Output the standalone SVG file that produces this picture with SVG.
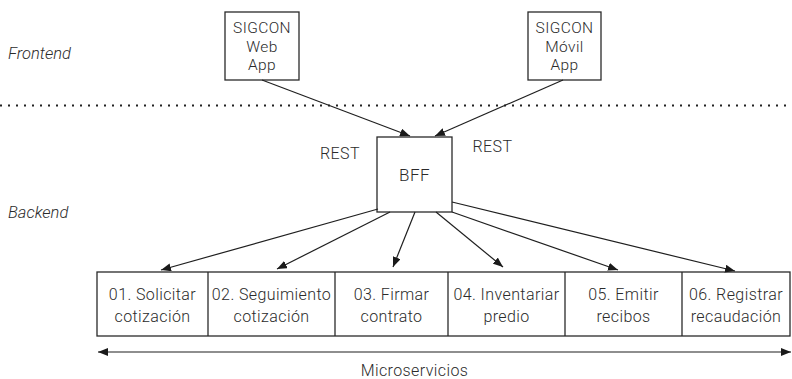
<svg xmlns="http://www.w3.org/2000/svg" width="792" height="379" viewBox="0 0 792 379">
<defs>
<marker id="ah" viewBox="0 0 10 8" refX="10" refY="4" markerWidth="10" markerHeight="8" markerUnits="userSpaceOnUse" orient="auto-start-reverse">
<path d="M0,0 L10,4 L0,8 Z" fill="#1a1a1a"/>
</marker>
<style>
.box{fill:#fff;stroke:#2a2a2a;stroke-width:1.3}
.t{font-family:Roboto,"Liberation Sans",sans-serif;font-size:16px;font-weight:300;letter-spacing:0.4px;fill:#2b2b2b;text-anchor:middle}
.s{font-size:15.5px}
.i{font-family:Roboto,"Liberation Sans",sans-serif;font-size:16.5px;font-weight:300;font-style:italic;fill:#2b2b2b}
.c{stroke:#1f1f1f;stroke-width:1.2;fill:none;marker-end:url(#ah)}
</style>
</defs>
<rect width="792" height="379" fill="#fff"/>
<text class="i" x="8" y="59">Frontend</text>
<text class="i" x="8" y="218">Backend</text>
<line x1="0" y1="105.5" x2="792" y2="105.5" stroke="#222" stroke-width="2" stroke-dasharray="2 6"/>
<g id="web">
<rect class="box" x="225" y="12" width="74" height="68"/>
<text class="t s" x="262" y="33">SIGCON</text>
<text class="t s" x="262" y="52">Web</text>
<text class="t s" x="262" y="70">App</text>
</g>
<g id="movil">
<rect class="box" x="528" y="12" width="73" height="68"/>
<text class="t s" x="564.5" y="33">SIGCON</text>
<text class="t s" x="564.5" y="52">Móvil</text>
<text class="t s" x="564.5" y="70">App</text>
</g>
<g id="bff">
<rect class="box" x="377" y="137" width="75" height="75"/>
<text class="t" x="414.5" y="181" style="font-size:17px">BFF</text>
</g>
<text class="t" x="340" y="159">REST</text>
<text class="t" x="492.5" y="152">REST</text>
<g id="ms">
<rect class="box" x="97" y="272" width="693" height="64"/>
<line x1="208" y1="272" x2="208" y2="336" stroke="#2a2a2a" stroke-width="1.3"/>
<line x1="335" y1="272" x2="335" y2="336" stroke="#2a2a2a" stroke-width="1.3"/>
<line x1="448" y1="272" x2="448" y2="336" stroke="#2a2a2a" stroke-width="1.3"/>
<line x1="565" y1="272" x2="565" y2="336" stroke="#2a2a2a" stroke-width="1.3"/>
<line x1="682" y1="272" x2="682" y2="336" stroke="#2a2a2a" stroke-width="1.3"/>
</g>
<g id="ms01"><text class="t" x="152.5" y="300">01. Solicitar</text><text class="t" x="152.5" y="322">cotización</text></g>
<g id="ms02"><text class="t" x="271.5" y="300">02. Seguimiento</text><text class="t" x="271.5" y="322">cotización</text></g>
<g id="ms03"><text class="t" x="391.5" y="300">03. Firmar</text><text class="t" x="391.5" y="322">contrato</text></g>
<g id="ms04"><text class="t" x="506.5" y="300">04. Inventariar</text><text class="t" x="506.5" y="322">predio</text></g>
<g id="ms05"><text class="t" x="623.5" y="300">05. Emitir</text><text class="t" x="623.5" y="322">recibos</text></g>
<g id="ms06"><text class="t" x="736" y="300">06. Registrar</text><text class="t" x="736" y="322">recaudación</text></g>
<g id="connectors">
<line class="c" x1="262" y1="80" x2="410" y2="136"/>
<line class="c" x1="563" y1="80" x2="435" y2="136"/>
<line class="c" x1="378" y1="209" x2="161" y2="270"/>
<line class="c" x1="390" y1="212" x2="277" y2="269"/>
<line class="c" x1="415" y1="212" x2="393" y2="267"/>
<line class="c" x1="436" y1="212" x2="503" y2="267"/>
<line class="c" x1="452" y1="212" x2="618" y2="270"/>
<line class="c" x1="452" y1="202" x2="735" y2="271"/>
<line x1="98" y1="352" x2="791" y2="352" stroke="#1f1f1f" stroke-width="1.2" marker-start="url(#ah)" marker-end="url(#ah)"/>
</g>
<text class="t" x="414.5" y="376">Microservicios</text>
</svg>
